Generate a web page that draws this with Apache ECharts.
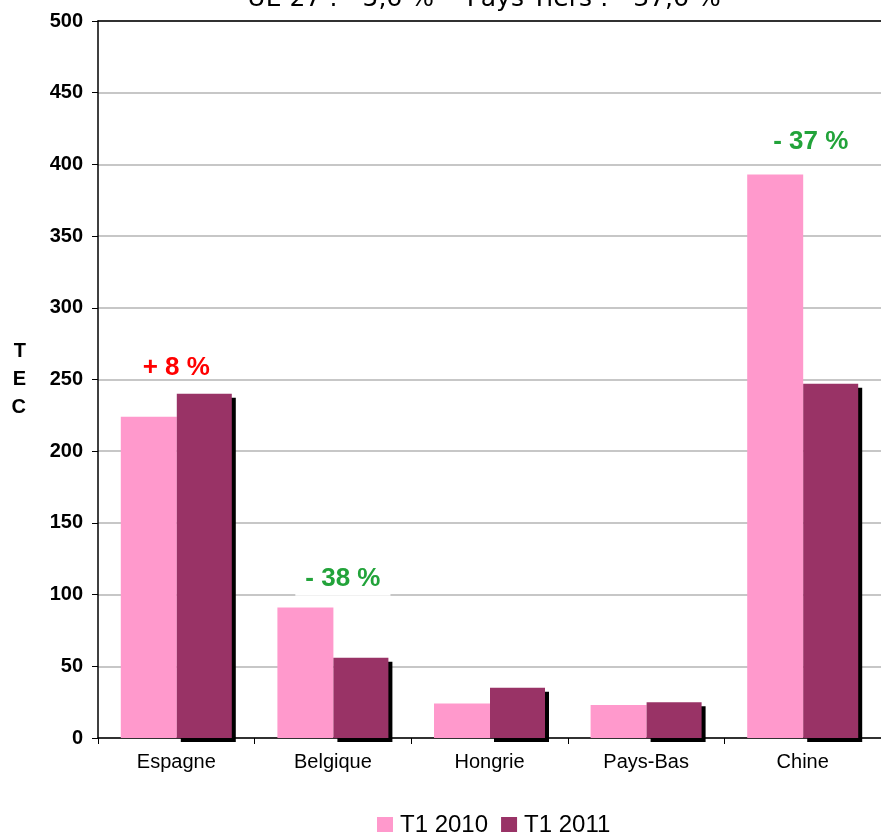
<!DOCTYPE html>
<html>
<head>
<meta charset="utf-8">
<script src="https://cdn.jsdelivr.net/npm/echarts@6/dist/echarts.min.js"></script>
<style>
  html, body { margin: 0; padding: 0; background: #fff; }
  #chart { width: 881px; height: 832px; }
</style>
</head>
<body>
<div id="chart"></div>
<script>
var categories = ['Espagne', 'Belgique', 'Hongrie', 'Pays-Bas', 'Chine'];
var t1_2010 = [224, 91, 24, 23, 393];
var t1_2011 = [240, 56, 35, 25, 247];
var seriesNames = ['T1 2010', 'T1 2011'];
var titleText = 'UE 27 : - 5,6 %  - Pays Tiers : - 37,6 %';

// variation labels : category, height on the axis, text, colour
var notes = [
  { cat: 'Espagne', value: 258, text: '+ 8 %', color: '#ff0000' },
  { cat: 'Belgique', value: 111, text: '- 38 %', color: '#22a33a' },
  { cat: 'Chine', value: 416, text: '- 37 %', color: '#22a33a' }
];
// shift of each label from the dark bar centre
var noteShift = [-28, -18, -20];

var chart = echarts.init(document.getElementById('chart'));

var option = {
  backgroundColor: '#ffffff',
  animation: false,
  title: {
    text: titleText,
    left: 479,
    textAlign: 'center',
    top: -18,
    textStyle: {
      fontFamily: 'DejaVu Sans',
      fontWeight: 'normal',
      fontSize: 25,
      color: '#000'
    }
  },
  legend: {
    data: seriesNames,
    left: 372,
    top: 808,
    itemWidth: 16,
    itemHeight: 16,
    itemGap: 13,
    icon: 'rect',
    textStyle: { fontFamily: 'Arial, Liberation Sans', fontSize: 24, color: '#000', padding: [0, 0, 0, 2] }
  },
  grid: {
    left: 98,
    top: 21,
    width: 790,
    bottom: 94
  },
  xAxis: [{
    type: 'category',
    data: categories,
    axisLine: { lineStyle: { color: '#000', width: 1.5 } },
    axisTick: { show: true, length: 6, lineStyle: { color: '#000' } },
    axisLabel: {
      fontFamily: 'Arial, Liberation Sans',
      fontSize: 20,
      color: '#000',
      margin: 14
    }
  }, {
    type: 'category',
    data: categories,
    position: 'top',
    axisLine: { lineStyle: { color: '#000', width: 1.5 } },
    axisTick: { show: false },
    axisLabel: { show: false }
  }],
  yAxis: {
    type: 'value',
    min: 0,
    max: 500,
    interval: 50,
    name: 'T\nE\nC',
    nameLocation: 'middle',
    nameRotate: 0,
    nameGap: 72,
    nameTextStyle: {
      fontFamily: 'Arial, Liberation Sans',
      fontWeight: 'bold',
      fontSize: 20,
      lineHeight: 28,
      color: '#000'
    },
    axisLine: { show: true, lineStyle: { color: '#000', width: 1.5 } },
    axisTick: { show: true, length: 6, lineStyle: { color: '#000' } },
    axisLabel: {
      fontFamily: 'Arial, Liberation Sans',
      fontWeight: 'bold',
      fontSize: 20,
      color: '#000',
      margin: 15
    },
    splitLine: { lineStyle: { color: '#b4b4b4', width: 1.5 } }
  },
  series: [{
    name: seriesNames[0],
    type: 'bar',
    data: t1_2010,
    barWidth: 56,
    barGap: '0%',
    itemStyle: { color: '#ff99cc' }
  }, {
    name: seriesNames[1],
    type: 'bar',
    data: t1_2011,
    barWidth: 55,
    barGap: '0%',
    itemStyle: {
      color: '#993366',
      shadowColor: '#000',
      shadowBlur: 0,
      shadowOffsetX: 4,
      shadowOffsetY: 4
    },
    markPoint: {
      symbol: 'rect',
      symbolSize: 0,
      silent: true,
      data: notes.map(function (n, i) {
        return {
          coord: [n.cat, n.value],
          label: {
            show: true,
            formatter: n.text,
            position: 'inside',
            offset: [noteShift[i], 0],
            color: n.color,
            fontFamily: 'Arial, Liberation Sans',
            fontWeight: 'bold',
            fontSize: 26,
            backgroundColor: i === 1 ? '#fff' : 'transparent',
            padding: [4, 10]
          }
        };
      })
    }
  }]
};

chart.setOption(option);
</script>
</body>
</html>
